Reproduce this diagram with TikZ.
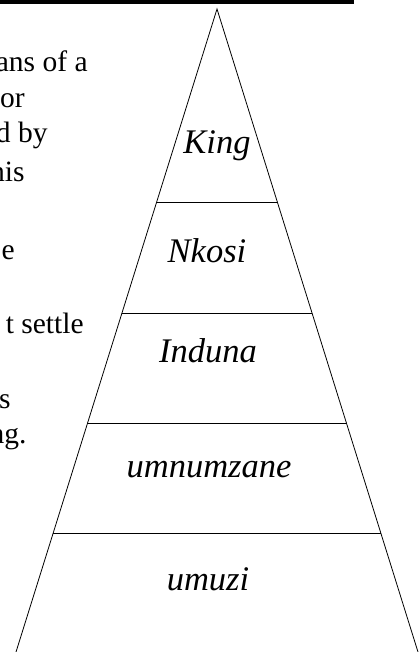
\documentclass[tikz,border=0pt]{standalone}
\usepackage{fontspec}
\setmainfont{Liberation Serif}
\usetikzlibrary{calc}
\tikzset{
  rank/.style={inner sep=0pt,anchor=base,font=\fontsize{34.5}{40}\selectfont\itshape},
  para/.style={inner sep=0pt,anchor=base east,font=\fontsize{29.5}{37}\selectfont}
}

\begin{document}
\begin{tikzpicture}[x=1pt,y=-1pt,line width=0.8pt]
  \useasboundingbox (0,0) rectangle (419,652);
  \fill (0,0) rectangle (354,4);
  \coordinate (apex) at (217,9);
  \coordinate (bl) at (16,652);
  \coordinate (br) at (418,652);
  \draw (bl) -- (apex) -- (br);
  \draw ($(apex)!0.3002!(bl)$) -- ($(apex)!0.3002!(br)$);
  \draw ($(apex)!0.4728!(bl)$) -- ($(apex)!0.4728!(br)$);
  \draw ($(apex)!0.6439!(bl)$) -- ($(apex)!0.6439!(br)$);
  \draw ($(apex)!0.8149!(bl)$) -- ($(apex)!0.8149!(br)$);
  \node[rank] (king) at (217,154) {King};
  \node[rank] (nkosi) at (207,262) {Nkosi};
  \node[rank] (induna) at (208,362) {Induna};
  \node[rank] (umnumzane) at (209,477) {umnumzane};
  \node[rank] (umuzi) at (208,590) {umuzi};
  \node[para] (l1) at (88,72) {ans of a};
  \node[para] (l2) at (25,108) {or};
  \node[para] (l3) at (48,143) {d by};
  \node[para] (l4) at (25,182) {his};
  \node[para] (l5) at (15,259) {e};
  \node[para] (l6) at (84,333) {t settle};
  \node[para] (l7) at (11,408) {s};
  \node[para] (l8) at (27,443) {ng.};
\end{tikzpicture}
\end{document}
